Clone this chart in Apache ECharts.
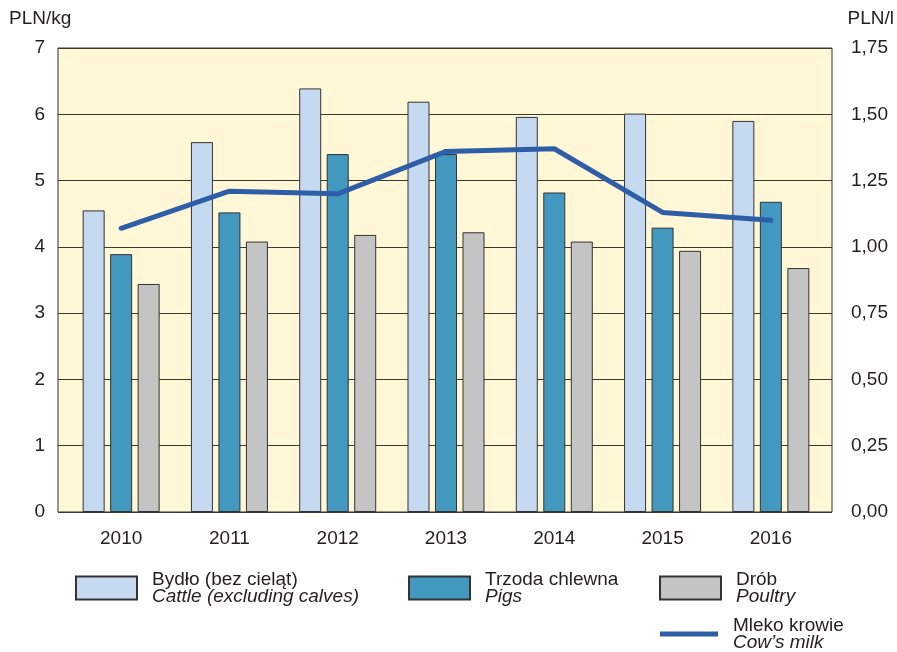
<!DOCTYPE html>
<html>
<head>
<meta charset="utf-8">
<script src="https://cdn.jsdelivr.net/npm/echarts@6/dist/echarts.min.js"></script>
<style>
  html, body { margin: 0; padding: 0; background: #fff; }
  #chart { width: 897px; height: 652px; }
</style>
</head>
<body>
<div id="chart"></div>
<script>
const years = ['2010', '2011', '2012', '2013', '2014', '2015', '2016']
const cattle = [4.55, 5.58, 6.39, 6.19, 5.96, 6.01, 5.90]
const pigs = [3.89, 4.52, 5.40, 5.40, 4.82, 4.29, 4.68]
const poultry = [3.44, 4.08, 4.18, 4.22, 4.08, 3.94, 3.68]
const milk = [1.07, 1.21, 1.20, 1.36, 1.37, 1.13, 1.10]

const names = {
  cattle: ['Bydło (bez cieląt)', 'Cattle (excluding calves)'],
  pigs: ['Trzoda chlewna', 'Pigs'],
  poultry: ['Drób', 'Poultry'],
  milk: ['Mleko krowie', 'Cow’s milk']
}

const font = 'Arial, "Liberation Sans", sans-serif'
const ink = '#231f20'

function legendAt(name, left, top, extra) {
  return Object.assign({
    data: [name],
    left: left,
    top: top,
    padding: 0,
    icon: 'rect',
    itemWidth: 61,
    itemHeight: 23,
    selectedMode: false,
    formatter: (n) => {
      let k = Object.keys(names).find((key) => names[key][0] == n)
      return '{a|' + names[k][0] + '}\n{b|' + names[k][1] + '}'
    },
    textStyle: {
      padding: [0, 0, 0, 10],
      rich: {
        a: { fontSize: 19, lineHeight: 17, color: ink, fontFamily: font },
        b: { fontSize: 19, lineHeight: 17, color: ink, fontFamily: font, fontStyle: 'italic' }
      }
    }
  }, extra || {})
}

const chart = echarts.init(document.getElementById('chart'))

const barBorder = { borderColor: '#333', borderWidth: 1 }

chart.setOption({
  animation: false,
  grid: [
    { left: 58, right: 65, top: 48, bottom: 140, show: true, backgroundColor: '#fff7d5', borderColor: '#333', borderWidth: 1 },
    { left: 67, right: 72, top: 48, bottom: 140 }
  ],
  xAxis: [
    { type: 'value', gridIndex: 0, min: 0, max: 1, show: false },
    {
      type: 'category', gridIndex: 1, data: years,
      axisLine: { show: false }, axisTick: { show: false },
      axisLabel: { fontSize: 19, color: ink, fontFamily: font, margin: 17 }
    }
  ],
  yAxis: [
    {
      type: 'value', gridIndex: 0, min: 0, max: 7, interval: 1, position: 'left',
      axisLine: { show: false }, axisTick: { show: false },
      axisLabel: { fontSize: 19, color: ink, fontFamily: font, margin: 13 },
      splitLine: { lineStyle: { color: '#3a3a30', width: 1 } }
    },
    {
      type: 'value', gridIndex: 0, min: 0, max: 1.75, interval: 0.25, position: 'right',
      axisLine: { show: false }, axisTick: { show: false }, splitLine: { show: false },
      axisLabel: {
        fontSize: 19, color: ink, fontFamily: font, margin: 19,
        formatter: (v) => v.toFixed(2).replace('.', ',')
      }
    },
    { type: 'value', gridIndex: 1, min: 0, max: 7, show: false },
    { type: 'value', gridIndex: 1, min: 0, max: 1.75, show: false }
  ],
  legend: [
    legendAt(names.cattle[0], 75, 570),
    legendAt(names.pigs[0], 408, 570),
    legendAt(names.poultry[0], 659, 570),
    legendAt(names.milk[0], 660, 616, { itemWidth: 58, itemHeight: 5 })
  ],
  graphic: [
    { type: 'text', left: 9, top: 9, style: { text: 'PLN/kg', font: '19px ' + font, fill: ink } },
    { type: 'text', right: 3, top: 9, style: { text: 'PLN/l', font: '19px ' + font, fill: ink } }
  ],
  series: [
    {
      name: names.cattle[0], type: 'bar', xAxisIndex: 1, yAxisIndex: 2, data: cattle,
      barWidth: 22, barGap: '25%',
      itemStyle: Object.assign({ color: '#c5daf1' }, barBorder)
    },
    {
      name: names.pigs[0], type: 'bar', xAxisIndex: 1, yAxisIndex: 2, data: pigs,
      barWidth: 22, barGap: '25%',
      itemStyle: Object.assign({ color: '#4398bf' }, barBorder)
    },
    {
      name: names.poultry[0], type: 'bar', xAxisIndex: 1, yAxisIndex: 2, data: poultry,
      barWidth: 22, barGap: '25%',
      itemStyle: Object.assign({ color: '#c4c4c4' }, barBorder)
    },
    {
      name: names.milk[0], type: 'line', xAxisIndex: 1, yAxisIndex: 3, data: milk,
      symbol: 'none', z: 5,
      itemStyle: { color: '#2e5ea8' },
      lineStyle: { color: '#2e5ea8', width: 5, cap: 'round', join: 'round' }
    }
  ]
})
</script>
</body>
</html>
